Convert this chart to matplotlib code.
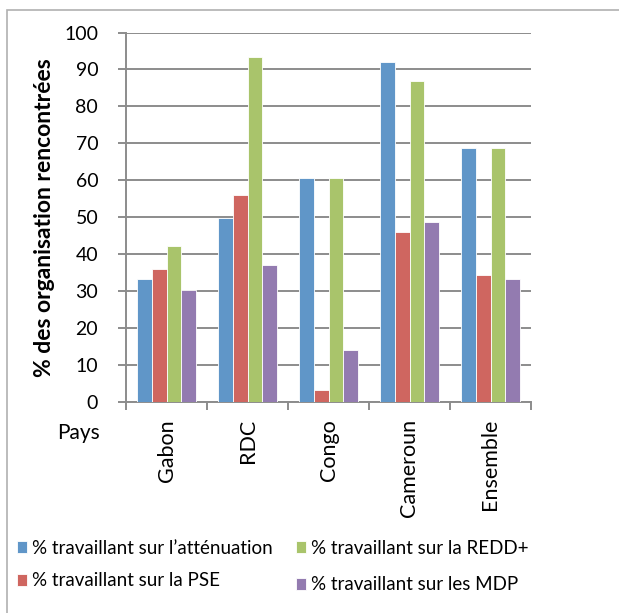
import matplotlib
matplotlib.use("Agg")
import matplotlib.pyplot as plt
import numpy as np
from matplotlib.patches import Rectangle

categories = ["Gabon", "RDC", "Congo", "Cameroun", "Ensemble"]
attenuation = [33.2, 49.9, 60.6, 92.1, 68.8]
pse = [36.1, 56.0, 3.3, 46.0, 34.3]
redd = [42.3, 93.5, 60.6, 87.0, 68.8]
mdp = [30.2, 37.2, 14.1, 48.6, 33.3]
series_names = ["% travaillant sur l\u2019atténuation", "% travaillant sur la PSE",
                "% travaillant sur la REDD+", "% travaillant sur les MDP"]
colors = ["#6096C8", "#CF6660", "#A9C46B", "#937BB0"]
yticks = [0, 10, 20, 30, 40, 50, 60, 70, 80, 90, 100]

plt.rcParams['font.family'] = ['Lato', 'DejaVu Sans']

W, H = 619, 613
fig = plt.figure(figsize=(W/100, H/100), dpi=100)
# outer frame
fig.patches.append(Rectangle((7/W, -0.1), 1.2, (H-10)/H + 0.1, transform=fig.transFigure,
                             fill=False, edgecolor="#B0B0B0", linewidth=1.2))

ax = fig.add_axes([126/W, 1-402/H, (531-126)/W, (402-32.5)/H])
data = [attenuation, pse, redd, mdp]
x = np.arange(len(categories))
bw = 0.183
handles = []
for i, (vals, c) in enumerate(zip(data, colors)):
    h = ax.bar(x + (i - 1.5) * bw, vals, width=bw, color=c, edgecolor="white", linewidth=0.6,
               label=series_names[i], zorder=3)
    handles.append(h)

ax.set_xlim(-0.5, len(categories) - 0.5)
ax.set_ylim(0, 100)
ax.set_yticks(yticks)
ax.set_yticklabels([str(v) for v in yticks], fontsize=14)
ax.yaxis.grid(True, color="#8C8C8C", linewidth=1.4, zorder=0)
ax.set_axisbelow(True)
ax.set_xticks(np.arange(len(categories) + 1) - 0.5)
ax.set_xticklabels([])
ax.tick_params(axis='x', length=6, color="#8C8C8C", width=1.4)
ax.tick_params(axis='y', length=6, color="#8C8C8C", width=1.4, pad=14)
for s in ["top", "right"]:
    ax.spines[s].set_visible(False)
for s in ["left", "bottom"]:
    ax.spines[s].set_color("#8C8C8C")
    ax.spines[s].set_linewidth(1.4)

for xi, cat in zip(x, categories):
    ax.text(xi, -4.6, cat, rotation=90, ha='center', va='top', fontsize=15.5,
            transform=ax.transData, clip_on=False)
fig.text(100/W, 1-423/H, "Pays", ha='right', va='top', fontsize=15)

fig.text(45/W, 1-218/H, "% des organisation rencontrées", rotation=90, ha='center',
         va='center', fontsize=16.5, fontweight='bold')

common = dict(loc='center left', frameon=False, fontsize=13.5, handlelength=0.55,
              handleheight=0.55, handletextpad=0.25, labelspacing=0.0, borderaxespad=0,
              borderpad=0)
leg1 = fig.legend([handles[0]], [series_names[0]], bbox_to_anchor=(17/W, 1-548/H), **common)
leg2 = fig.legend([handles[1]], [series_names[1]], bbox_to_anchor=(17/W, 1-581/H), **common)
leg3 = fig.legend([handles[2]], [series_names[2]], bbox_to_anchor=(296/W, 1-548/H), **common)
leg4 = fig.legend([handles[3]], [series_names[3]], bbox_to_anchor=(296/W, 1-585/H), **common)

fig.savefig("out.png", dpi=100)
